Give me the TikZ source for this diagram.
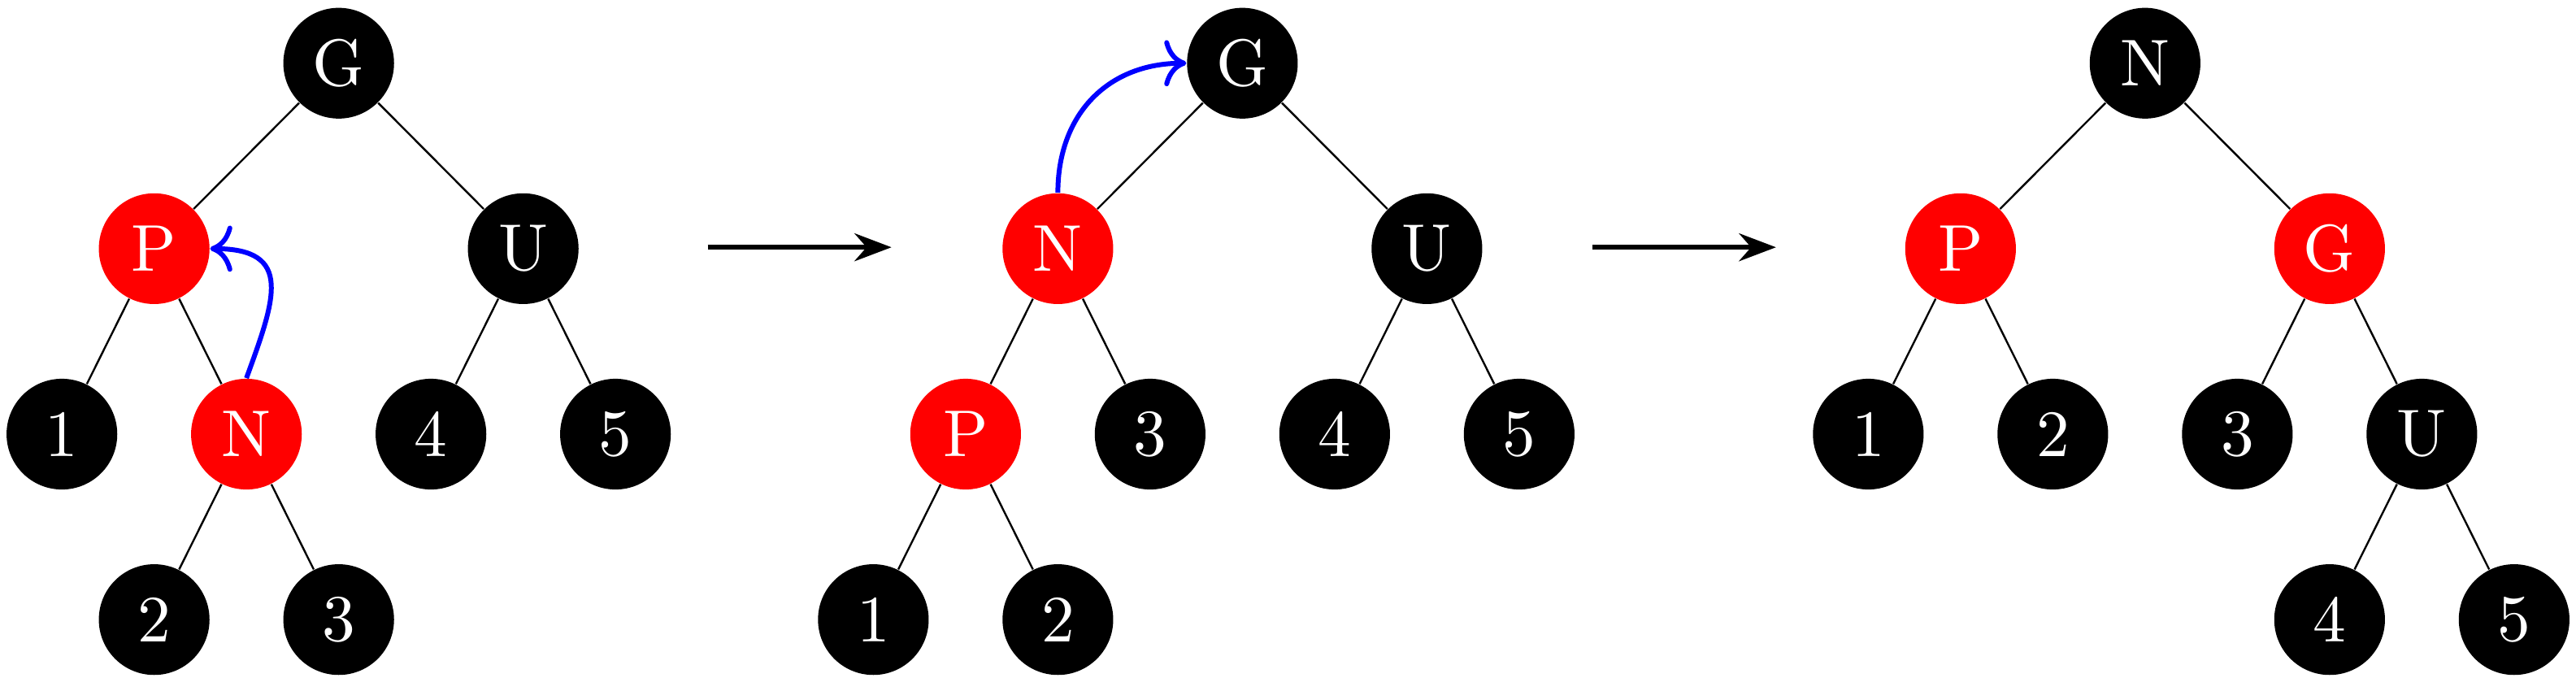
\documentclass[tikz,border=0pt]{standalone}
\usetikzlibrary{arrows.meta}
\newcommand\nlab[1]{\scalebox{2.04}{\normalsize #1}}
\tikzset{
  rb/.style={circle, minimum size=1.2cm, inner sep=0pt, text=white},
  blk/.style={rb, fill=black},
  rd/.style={rb, fill=red},
  edge/.style={line width=0.6pt},
  step arrow/.style={line width=1.65pt, -{Stealth[length=4mm,width=3mm,inset=1.3mm]}},
  rot/.style={blue, line width=1.5pt, -{Computer Modern Rightarrow[length=2.4mm,width=5mm,round]}},
}
\begin{document}
\begin{tikzpicture}
\useasboundingbox (0,0) rectangle (27.921,-7.348);
\def\LA{-0.685}\def\LB{-2.695}\def\LC{-4.705}\def\LD{-6.715}
% tree 1
\begin{scope}[xshift=3.671cm]
\node[blk] (aG) at (0,\LA) {\nlab{G}};
\node[rd]  (aP) at (-2,\LB) {\nlab{P}};
\node[blk] (aU) at (2,\LB) {\nlab{U}};
\node[blk] (a1) at (-3,\LC) {\nlab{1}};
\node[rd]  (aN) at (-1,\LC) {\nlab{N}};
\node[blk] (a4) at (1,\LC) {\nlab{4}};
\node[blk] (a5) at (3,\LC) {\nlab{5}};
\node[blk] (a2) at (-2,\LD) {\nlab{2}};
\node[blk] (a3) at (0,\LD) {\nlab{3}};
\end{scope}
\draw[edge] (aG) -- (aP); \draw[edge] (aG) -- (aU);
\draw[edge] (aP) -- (a1); \draw[edge] (aP) -- (aN);
\draw[edge] (aN) -- (a2); \draw[edge] (aN) -- (a3);
\draw[edge] (aU) -- (a4); \draw[edge] (aU) -- (a5);
\draw[rot] (aN.north) to[out=70,in=0,looseness=1.6] (aP.east);
% tree 2
\begin{scope}[xshift=13.466cm]
\node[blk] (bG) at (0,\LA) {\nlab{G}};
\node[rd]  (bN) at (-2,\LB) {\nlab{N}};
\node[blk] (bU) at (2,\LB) {\nlab{U}};
\node[rd]  (bP) at (-3,\LC) {\nlab{P}};
\node[blk] (b3) at (-1,\LC) {\nlab{3}};
\node[blk] (b4) at (1,\LC) {\nlab{4}};
\node[blk] (b5) at (3,\LC) {\nlab{5}};
\node[blk] (b1) at (-4,\LD) {\nlab{1}};
\node[blk] (b2) at (-2,\LD) {\nlab{2}};
\end{scope}
\draw[edge] (bG) -- (bN); \draw[edge] (bG) -- (bU);
\draw[edge] (bN) -- (bP); \draw[edge] (bN) -- (b3);
\draw[edge] (bP) -- (b1); \draw[edge] (bP) -- (b2);
\draw[edge] (bU) -- (b4); \draw[edge] (bU) -- (b5);
\draw[rot] (bN.north) to[out=90,in=180,looseness=1.1] (bG.west);
% tree 3
\begin{scope}[xshift=23.25cm]
\node[blk] (cN) at (0,\LA) {\nlab{N}};
\node[rd]  (cP) at (-2,\LB) {\nlab{P}};
\node[rd]  (cG) at (2,\LB) {\nlab{G}};
\node[blk] (c1) at (-3,\LC) {\nlab{1}};
\node[blk] (c2) at (-1,\LC) {\nlab{2}};
\node[blk] (c3) at (1,\LC) {\nlab{3}};
\node[blk] (cU) at (3,\LC) {\nlab{U}};
\node[blk] (c4) at (2,\LD) {\nlab{4}};
\node[blk] (c5) at (4,\LD) {\nlab{5}};
\end{scope}
\draw[edge] (cN) -- (cP); \draw[edge] (cN) -- (cG);
\draw[edge] (cP) -- (c1); \draw[edge] (cP) -- (c2);
\draw[edge] (cG) -- (c3); \draw[edge] (cG) -- (cU);
\draw[edge] (cU) -- (c4); \draw[edge] (cU) -- (c5);
% step arrows
\coordinate (s1) at (7.671,-2.68);
\coordinate (e1) at (9.663,-2.68);
\coordinate (s2) at (17.26,-2.68);
\coordinate (e2) at (19.25,-2.68);
\draw[step arrow] (s1) -- (e1);
\draw[step arrow] (s2) -- (e2);
\end{tikzpicture}
\end{document}
